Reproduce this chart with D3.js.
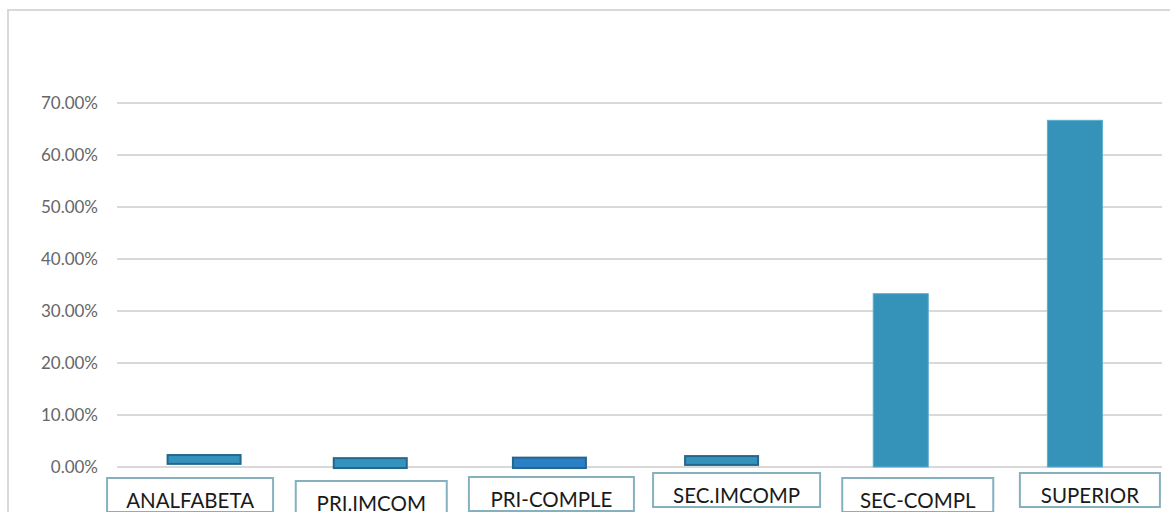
<!DOCTYPE html>
<html>
<head>
<meta charset="utf-8">
<script src="https://cdn.jsdelivr.net/npm/d3@7"></script>
<style>
  body { margin: 0; background: #fff; }
  svg { display: block; }
</style>
</head>
<body>
<div id="chart"></div>
<script>
// Data
var categories = ["ANALFABETA", "PRI.IMCOM", "PRI-COMPLE", "SEC.IMCOMP", "SEC-COMPL", "SUPERIOR"];
var values = [0, 0, 0, 0, 0.3333, 0.6667];
// little floating stubs drawn over the zero categories (low, high)
var stubLow = [0.006, -0.002, -0.002, 0.004, null, null];
var stubHigh = [0.023, 0.017, 0.018, 0.021, null, null];
var yTicks = [0, 0.1, 0.2, 0.3, 0.4, 0.5, 0.6, 0.7];

// Layout
var w = 1170, h = 512;
var margin = { top: 103, right: 8, bottom: 45, left: 117 };
var width = w - margin.left - margin.right;
var height = h - margin.top - margin.bottom;
var stubFill = ["#3592bd", "#3592bd", "#2a7fc6", "#3592bd"];
var stubShift = [0, -8, -3, -5];
// label box tweaks: dx, dy, width
var labelBox = [[-14, 11, 166], [-7, 14, 151], [-1, 10, 165], [10, 6, 167], [17, 11, 151], [15, 6, 140]];

var svg = d3.select("#chart").append("svg")
    .attr("width", w)
    .attr("height", h);

// Chart border
svg.append("rect")
  .attr("x", 8).attr("y", 10)
  .attr("width", w + 10).attr("height", h)
  .attr("fill", "none")
  .attr("stroke", "#d9d9d9")
  .attr("stroke-width", 2);

var g = svg.append("g")
  .attr("transform", "translate(" + margin.left + "," + margin.top + ")");

// Scales
var xScale = d3.scaleBand().domain(categories).range([0, width]).paddingInner(0.684).paddingOuter(0.342);
var yScale = d3.scaleLinear().domain([0, 0.7]).range([height, 0]);

// Gridlines
g.selectAll(".grid").data(yTicks).enter().append("line")
  .attr("x1", 0).attr("x2", width)
  .attr("y1", function(d) { return yScale(d); })
  .attr("y2", function(d) { return yScale(d); })
  .attr("stroke", "#d9d9d9")
  .attr("stroke-width", 2);

// Y axis
var yAxis = d3.axisLeft(yScale).tickValues(yTicks).tickSize(0).tickPadding(19)
  .tickFormat(function(d) { return (d * 100).toFixed(2) + "%"; });
var ya = g.append("g").call(yAxis);
ya.select(".domain").remove();
ya.selectAll("text")
  .attr("fill", "#666")
  .style("font-family", "Lato, 'Open Sans', sans-serif")
  .style("font-size", "17px");

// Bars
g.selectAll(".bar").data(values).enter().append("rect")
  .filter(function(d) { return d > 0; })
  .attr("x", function(d) { return xScale(categories[values.indexOf(d)]); })
  .attr("y", function(d) { return yScale(d); })
  .attr("width", xScale.bandwidth())
  .attr("height", function(d) { return yScale(0) - yScale(d); })
  .attr("fill", "#3592b9")
  .attr("stroke", "#5aaed0")
  .attr("stroke-width", 1);

// Stubs
var stubW = 73;
g.selectAll(".stub").data(categories.slice(0, 4)).enter().append("rect")
  .attr("x", function(d, i) { return xScale(d) + xScale.bandwidth() / 2 - stubW / 2 + stubShift[i]; })
  .attr("y", function(d, i) { return yScale(stubHigh[i]); })
  .attr("width", stubW)
  .attr("height", function(d, i) { return yScale(stubLow[i]) - yScale(stubHigh[i]); })
  .attr("fill", function(d, i) { return stubFill[i]; })
  .attr("stroke", "#23678a")
  .attr("stroke-width", 2);

// Category label boxes
var lab = g.selectAll(".lab").data(categories).enter().append("g")
  .attr("transform", function(d, i) {
    var cx = xScale(d) + xScale.bandwidth() / 2 + labelBox[i][0];
    return "translate(" + cx + "," + (height + labelBox[i][1]) + ")";
  });
lab.append("rect")
  .attr("x", function(d, i) { return -labelBox[i][2] / 2; })
  .attr("y", 0)
  .attr("width", function(d, i) { return labelBox[i][2]; })
  .attr("height", 34)
  .attr("fill", "#fff")
  .attr("stroke", "#85b1bf")
  .attr("stroke-width", 2);
lab.append("text")
  .attr("text-anchor", "middle")
  .attr("y", 30)
  .attr("fill", "#1a1a1a")
  .style("font-family", "Lato, 'Open Sans', sans-serif")
  .style("font-size", "20.5px")
  .text(function(d) { return d; });
</script>
</body>
</html>
